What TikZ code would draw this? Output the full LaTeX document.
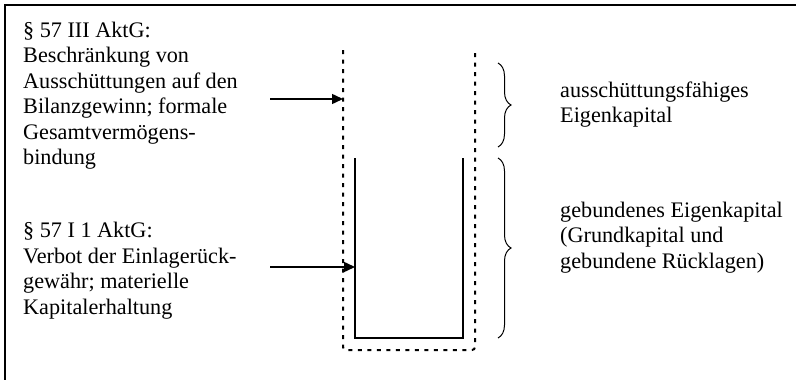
\documentclass[tikz,border=0pt]{standalone}
\usepackage{fontspec}
\setmainfont{Liberation Serif}
\usetikzlibrary{arrows.meta,decorations.pathreplacing}
\begin{document}
\begin{tikzpicture}[x=1pt,y=-1pt,
  txt/.style={anchor=base west,inner sep=0pt,align=left,font=\fontsize{22.2}{25.5}\selectfont},
  frame/.style={line width=2pt},
  dotline/.style={line width=2pt,dash pattern=on 4pt off 5.5pt,rounded corners=3pt},
  cup/.style={line width=2pt},
  arr/.style={line width=1.5pt,-{Triangle[length=11pt,width=10pt]}},
  brc/.style={line width=1pt,decorate,decoration={brace,amplitude=13pt,aspect=0.5}}
]
\useasboundingbox (0,0) rectangle (796,380);
\draw[frame] (5,380) -- (5,5) -- (796,5);
% containers
\draw[dotline] (343,50) -- (343,350) -- (475,350) -- (475,50);
\draw[cup] (355,158) -- (355,338) -- (463,338) -- (463,158);
% texts (anchor = baseline of last line)
\node[txt] (t1) at (23,164.5) {§ 57 III AktG:\\Beschränkung von\\Ausschüttungen auf den\\Bilanzgewinn; formale\\Gesamtvermögens-\\bindung};
\node[txt] (t2) at (23,314) {§ 57 I 1 AktG:\\Verbot der Einlagerück-\\gewähr; materielle\\Kapitalerhaltung};
\node[txt] (t3) at (560,122.5) {ausschüttungsfähiges\\Eigenkapital};
\node[txt] (t4) at (560,268) {gebundenes Eigenkapital\\(Grundkapital und\\gebundene Rücklagen)};
% arrows
\coordinate (a1s) at (270,99);
\coordinate (a1e) at (343,99);
\coordinate (a2s) at (270,267);
\coordinate (a2e) at (355,267);
\draw[arr] (a1s) -- (a1e);
\draw[arr] (a2s) -- (a2e);
% braces
\coordinate (b1t) at (498,63);
\coordinate (b1b) at (498,147);
\coordinate (b2t) at (498,158);
\coordinate (b2b) at (498,338);
\draw[brc] (b1t) -- (b1b);
\draw[brc] (b2t) -- (b2b);
\end{tikzpicture}
\end{document}
